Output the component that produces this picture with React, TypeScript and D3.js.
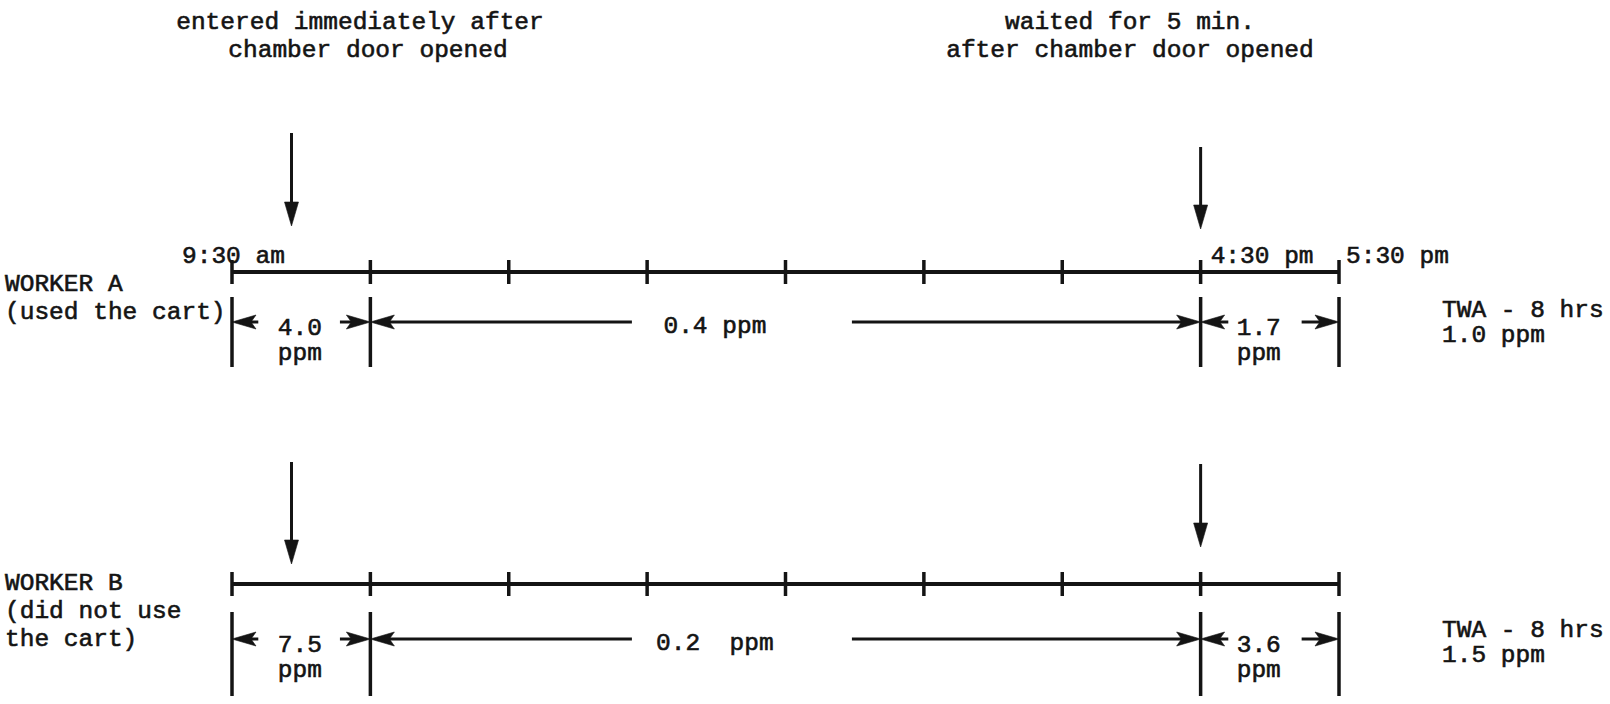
import * as d3 from 'd3'

// time axis: hours of the working day (9:30 am .. 5:30 pm)
const hourTicks = [9.5, 10.5, 11.5, 12.5, 13.5, 14.5, 15.5, 16.5, 17.5]
const timeLabels = ['9:30 am', '4:30 pm', '5:30 pm']
const timeLabelHours = [9.5, 16.5, 17.5]

// sampling periods
const segStart = [9.5, 10.5, 16.5]
const segEnd = [10.5, 16.5, 17.5]

const workerNames = ['WORKER A', 'WORKER B']
const workerNotes = [['(used the cart)'], ['(did not use', 'the cart)']]
const concA = ['4.0', '0.4', '1.7']
const concB = ['7.5', '0.2', '3.6']
const twaValues = ['1.0 ppm', '1.5 ppm']
const entryHours = [9.93, 16.5]
const entryNotes = [
  ['entered immediately after', 'chamber door opened'],
  ['waited for 5 min.', 'after chamber door opened'],
]

const W = 1610
const H = 704
const FONT = "'Courier New', 'Liberation Mono', monospace"
const FS = 24.5
const INK = '#141414'

const x = d3.scaleLinear().domain([9.5, 17.5]).range([232, 1339])

// per row layout
const rows = [
  { axisY: 272, lineY: 322, barTop: 297, barBot: 367, arrows: [[133, 226], [147, 229]], labelY: 291, labelGap: 28, twaY: 317 },
  { axisY: 584, lineY: 639, barTop: 612, barBot: 696, arrows: [[462, 564], [464, 547]], labelY: 590, labelGap: 28, twaY: 637 },
]
// where lines stop / labels sit, as fraction of each period
const segLayout = [
  { lineEnd: 0.19, label: 0.49, lineStart: 0.78, twoLine: true },
  { lineEnd: 0.315, label: 0.415, lineStart: 0.58, twoLine: false },
  { lineEnd: 0.2, label: 0.42, lineStart: 0.73, twoLine: true },
]

function headLeft(px: number, py: number) {
  return `M${px},${py} L${px + 24},${py - 7} L${px + 19},${py} L${px + 24},${py + 7} Z`
}
function headRight(px: number, py: number) {
  return `M${px},${py} L${px - 24},${py - 7} L${px - 19},${py} L${px - 24},${py + 7} Z`
}

function Row({ ri, conc }: { ri: number; conc: string[] }) {
  const r = rows[ri]
  return (
    <g>
      {/* time line */}
      <line x1={x(9.5)} x2={x(17.5)} y1={r.axisY} y2={r.axisY} stroke={INK} strokeWidth={4} />
      {hourTicks.map((h, i) => (
        <line key={i} x1={x(h)} x2={x(h)} y1={r.axisY - 12} y2={r.axisY + 12} stroke={INK} strokeWidth={3.5} />
      ))}

      {/* entry arrows */}
      {entryHours.map((h, i) => (
        <g key={i}>
          <line x1={x(h)} x2={x(h)} y1={r.arrows[i][0]} y2={r.arrows[i][1] - 14} stroke={INK} strokeWidth={3} />
          <path d={`M${x(h)},${r.arrows[i][1]} L${x(h) - 7},${r.arrows[i][1] - 24} L${x(h) + 7},${r.arrows[i][1] - 24} Z`} fill={INK} />
        </g>
      ))}

      {/* period boundaries */}
      {[segStart[0], ...segEnd].map((h, i) => (
        <line key={i} x1={x(h)} x2={x(h)} y1={r.barTop} y2={r.barBot} stroke={INK} strokeWidth={3.5} />
      ))}

      {/* period measurements */}
      {segStart.map((s, i) => {
        const x0 = x(s)
        const x1 = x(segEnd[i])
        const w = x1 - x0
        const L = segLayout[i]
        const lx = x0 + w * L.label
        return (
          <g key={i}>
            <line x1={x0 + 10} x2={x0 + w * L.lineEnd} y1={r.lineY} y2={r.lineY} stroke={INK} strokeWidth={3} />
            <path d={headLeft(x0, r.lineY)} fill={INK} />
            <line x1={x0 + w * L.lineStart} x2={x1 - 10} y1={r.lineY} y2={r.lineY} stroke={INK} strokeWidth={3} />
            <path d={headRight(x1, r.lineY)} fill={INK} />
            {L.twoLine ? (
              <>
                <text x={lx} y={r.lineY + 13} textAnchor="middle">{conc[i]}</text>
                <text x={lx} y={r.lineY + 38} textAnchor="middle">ppm</text>
              </>
            ) : (
              <text x={lx} y={r.lineY + 11} textAnchor="middle" style={{ whiteSpace: 'pre' }}>
                {ri === 0 ? `${conc[i]} ppm` : `${conc[i]}  ppm`}
              </text>
            )}
          </g>
        )
      })}

      {/* worker label */}
      <text x={5} y={r.labelY}>{workerNames[ri]}</text>
      {workerNotes[ri].map((t, i) => (
        <text key={i} x={5} y={r.labelY + r.labelGap * (i + 1)}>{t}</text>
      ))}

      {/* TWA */}
      <text x={1442} y={r.twaY}>TWA - 8 hrs</text>
      <text x={1442} y={r.twaY + 25}>{twaValues[ri]}</text>
    </g>
  )
}

export default function App() {
  return (
    <svg
      width={W}
      height={H}
      style={{ position: 'absolute', left: 0, top: 0, background: '#fff' }}
      fontFamily={FONT}
      fontSize={FS}
      fill={INK}
      stroke={INK}
      strokeWidth={0}
    >
      <rect width={W} height={H} fill="#fff" />
      <g strokeWidth={0.6}>
        {entryNotes.map((lines, i) => {
          const cx = i === 0 ? 360 : 1130
          return lines.map((t, j) => (
            <text key={`${i}-${j}`} x={i === 0 && j === 1 ? cx + 8 : cx} y={29 + j * 28} textAnchor="middle">{t}</text>
          ))
        })}

        {timeLabels.map((t, i) => {
          const h = timeLabelHours[i]
          const off = i === 0 ? -50 : i === 1 ? 10 : 7
          return <text key={i} x={x(h) + off} y={263}>{t}</text>
        })}
      </g>

      <g style={{ strokeWidth: 0.6 } as any}>
        <Row ri={0} conc={concA} />
        <Row ri={1} conc={concB} />
      </g>
    </svg>
  )
}
